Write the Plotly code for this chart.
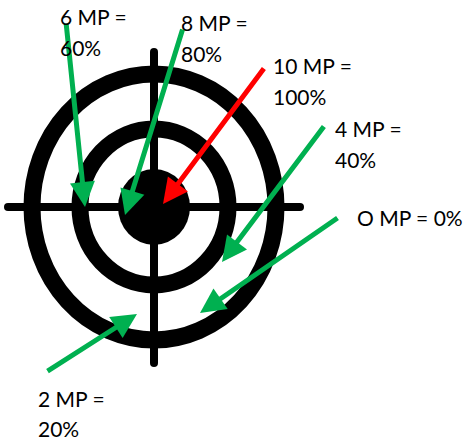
import plotly.graph_objects as go

# Labels
mp_values = [6, 8, 10, 4, 0, 2]
pct_values = [60, 80, 100, 40, 0, 20]
line1_labels = ["6 MP =", "8 MP =", "10 MP =", "4 MP =", "O MP = 0%", "2 MP ="]
line2_labels = ["60%", "80%", "100%", "40%", "", "20%"]
arrow_colors = ["#00B050", "#00B050", "#FF0000", "#00B050", "#00B050", "#00B050"]

# Arrow geometry (tail -> head) in canvas units
tail_x = [66, 183, 265, 325, 339, 46]
tail_y = [22, 28, 67, 125, 217, 372]
head_x = [85, 125, 163, 222, 200, 137]
head_y = [207, 215, 204, 262, 313, 314]
label_x = [58, 179, 271, 333, 355, 36]
label_y1 = [16, 22, 65, 128, 217, 398]
label_y2 = [47, 53, 96, 159, None, 428]

# Target geometry
cx, cy = 154, 207
ring_rx = [122, 74]
ring_ry = [133, 78]
bull_rx, bull_ry = 36, 38

W, H = 463, 441
fig = go.Figure()
fig.add_trace(go.Scatter(x=[0], y=[0], mode="markers", marker=dict(opacity=0), hoverinfo="skip", showlegend=False))

shapes = []
for rx, ry in zip(ring_rx, ring_ry):
    shapes.append(dict(type="circle", xref="x", yref="y", x0=cx - rx, x1=cx + rx, y0=cy - ry, y1=cy + ry,
                       line=dict(color="black", width=17), fillcolor="rgba(0,0,0,0)"))
shapes.append(dict(type="circle", xref="x", yref="y", x0=cx - bull_rx, x1=cx + bull_rx, y0=cy - bull_ry, y1=cy + bull_ry,
                   line=dict(color="black", width=0), fillcolor="black"))
# crosshair
hx0, hx1 = 8, 300
vy0, vy1 = 52, 363
shapes.append(dict(type="line", xref="x", yref="y", x0=hx0, x1=hx1, y0=cy, y1=cy, line=dict(color="black", width=8)))
shapes.append(dict(type="line", xref="x", yref="y", x0=cx, x1=cx, y0=vy0, y1=vy1, line=dict(color="black", width=8)))
for px, py in [(hx0, cy), (hx1, cy), (cx, vy0), (cx, vy1)]:
    shapes.append(dict(type="circle", xref="x", yref="y", x0=px - 4, x1=px + 4, y0=py - 4, y1=py + 4,
                       line=dict(width=0), fillcolor="black"))

annotations = []
font = dict(family="Lato, Liberation Sans, sans-serif", size=21, color="black")
for i in range(len(mp_values)):
    annotations.append(dict(x=head_x[i], y=head_y[i], ax=tail_x[i], ay=tail_y[i], xref="x", yref="y",
                            axref="x", ayref="y", text="", showarrow=True, arrowhead=2, arrowsize=1,
                            arrowwidth=5, arrowcolor=arrow_colors[i], standoff=0, startstandoff=0))
    annotations.append(dict(x=label_x[i], y=label_y1[i], xref="x", yref="y", text=line1_labels[i],
                            showarrow=False, xanchor="left", yanchor="middle", font=font))
    if label_y2[i] is not None:
        annotations.append(dict(x=label_x[i], y=label_y2[i], xref="x", yref="y", text=line2_labels[i],
                                showarrow=False, xanchor="left", yanchor="middle", font=font))

fig.update_layout(width=W, height=H, margin=dict(l=0, r=0, t=0, b=0),
                  paper_bgcolor="white", plot_bgcolor="white",
                  xaxis=dict(range=[0, W], visible=False, fixedrange=True),
                  yaxis=dict(range=[H, 0], visible=False, fixedrange=True),
                  shapes=shapes, annotations=annotations, showlegend=False)
fig.write_html("out.html", config={"displayModeBar": False},
               post_script="document.body.style.margin='0px';")
